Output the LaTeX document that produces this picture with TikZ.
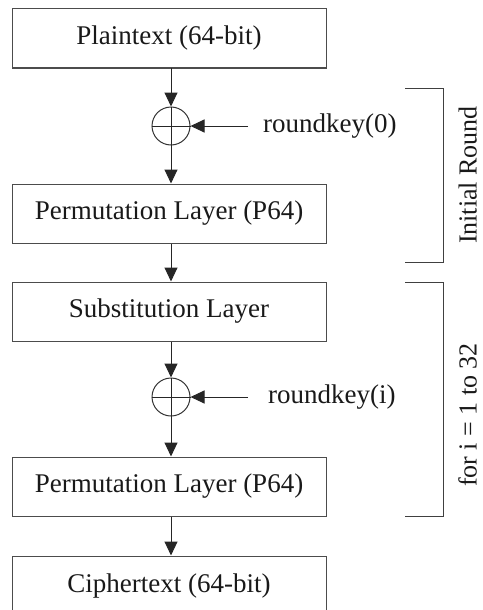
\documentclass[tikz,border=0pt]{standalone}
\usepackage{fontspec}
\setmainfont{Liberation Serif}
\usetikzlibrary{arrows.meta}
\begin{document}
\begin{tikzpicture}[x=1pt,y=-1pt,
  layerbox/.style={draw=black!70, line width=1pt, minimum width=314pt, minimum height=59pt, inner sep=0pt, font=\fontsize{27}{32}\selectfont, text=black!90},
  xorc/.style={circle, draw=black!80, line width=1pt, minimum size=38pt, inner sep=0pt},
  flow/.style={draw=black!85, line width=1pt, -{Triangle[length=14pt,width=13pt]}},
  plain/.style={draw=black!85, line width=1pt},
  keytxt/.style={anchor=west, inner sep=0pt, font=\fontsize{27}{32}\selectfont, text=black!90},
  brk/.style={draw=black!75, line width=1pt},
  sidetxt/.style={rotate=90, anchor=south, inner sep=0pt, font=\fontsize{26}{30}\selectfont, text=black!90}]
\useasboundingbox (0,0) rectangle (482,610);

\node[layerbox] (b1) at (169,38.5) {Plaintext (64-bit)};
\node[xorc] (x1) at (171,126) {};
\node[layerbox] (b2) at (169,213.5) {Permutation Layer (P64)};
\node[layerbox] (b3) at (169,311.5) {Substitution Layer};
\node[xorc] (x2) at (171,397) {};
\node[layerbox] (b4) at (169,486.5) {Permutation Layer (P64)};
\node[layerbox] (b5) at (169,585.5) {Ciphertext (64-bit)};

% xor crosses
\draw[plain] (x1.west) -- (x1.east);
\draw[plain] (x2.west) -- (x2.east);
\draw[plain] (x1.north) -- (x1.south);
\draw[plain] (x2.north) -- (x2.south);

% main flow
\draw[flow] (b1.south -| x1) -- (x1.north);
\draw[flow] (x1.south) -- (b2.north -| x1);
\draw[flow] (b2.south -| x1) -- (b3.north -| x1);
\draw[flow] (b3.south -| x2) -- (x2.north);
\draw[flow] (x2.south) -- (b4.north -| x2);
\draw[flow] (b4.south -| x2) -- (b5.north -| x2);

% round keys
\coordinate (k1) at (248,126);
\coordinate (k2) at (248,397);
\node[keytxt] (t1) at (263,126) {roundkey(0)};
\node[keytxt] (t2) at (268,397) {roundkey(i)};
\draw[flow] (k1) -- (x1.east);
\draw[flow] (k2) -- (x2.east);

% brackets
\coordinate (a1) at (405,88);
\coordinate (a2) at (443,88);
\coordinate (a3) at (443,262);
\coordinate (a4) at (405,262);
\draw[brk] (a1) -- (a2) -- (a3) -- (a4);
\coordinate (c1) at (405,282);
\coordinate (c2) at (443,282);
\coordinate (c3) at (443,516);
\coordinate (c4) at (405,516);
\draw[brk] (c1) -- (c2) -- (c3) -- (c4);

\node[sidetxt] (s1) at (477,175) {Initial Round};
\node[sidetxt] (s2) at (477,415) {for i = 1 to 32};
\end{tikzpicture}
\end{document}
